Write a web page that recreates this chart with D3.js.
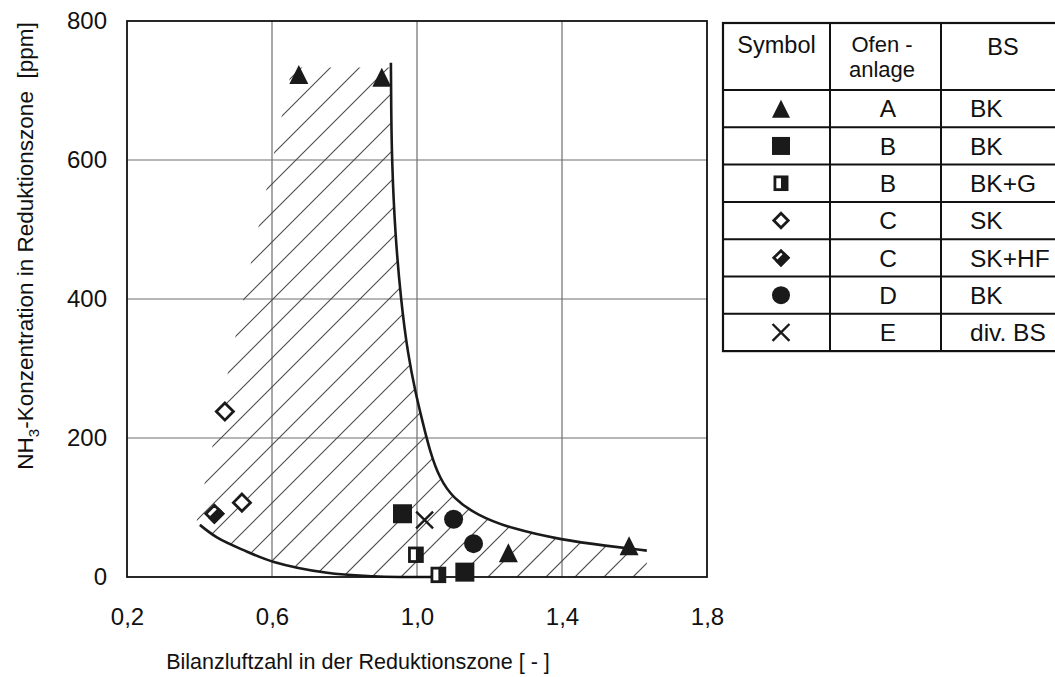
<!DOCTYPE html>
<html>
<head>
<meta charset="utf-8">
<script src="https://cdn.jsdelivr.net/npm/d3@7"></script>
<style>
  html, body { margin: 0; padding: 0; background: #fff; }
  svg { display: block; font-family: "Liberation Sans", Arial, sans-serif; }
</style>
</head>
<body>
<svg id="chart" width="1055" height="677"></svg>
<script>
// ---- data -------------------------------------------------------------
const xTicks = [0.2, 0.6, 1.0, 1.4, 1.8];
const xTickLabels = ["0,2", "0,6", "1,0", "1,4", "1,8"];
const yTicks = [0, 200, 400, 600, 800];
const yTickLabels = ["0", "200", "400", "600", "800"];

// measured points [Bilanzluftzahl, NH3 ppm]
const plantA_BK   = [[0.674, 723], [0.903, 719], [1.252, 35], [1.585, 45]];
const plantB_BK   = [[0.960, 91], [1.132, 7]];
const plantB_BKG  = [[0.997, 32], [1.059, 3]];
const plantC_SK   = [[0.470, 238], [0.517, 107]];
const plantC_SKHF = [[0.441, 91]];
const plantD_BK   = [[1.101, 83], [1.156, 48]];
const plantE_div  = [[1.021, 82]];

// boundary curves of the scatter band
const upperCurve = [[0.928, 740], [0.929, 660], [0.931, 599], [0.939, 498], [0.956, 396],
                    [0.975, 320], [0.996, 265], [1.016, 222], [1.035, 182], [1.062, 142],
                    [1.100, 113], [1.166, 89], [1.257, 70], [1.403, 53], [1.520, 45],
                    [1.634, 38]];
const lowerCurve = [[0.401, 75], [0.448, 57], [0.520, 39], [0.603, 22], [0.752, 6],
                    [0.880, 1], [0.961, 0], [1.040, 0]];
// outline of the hatched band (left edge and top edge)
const bandLeftEdge = [[0.390, 75], [0.655, 733], [0.928, 733]];
const bandRightFoot = [[1.634, 0]];

// legend table
const legendHeader = ["Symbol", ["Ofen -", "anlage"], "BS"];
const legendSymbols = ["triangle", "square", "halfSquare", "diamond", "halfDiamond", "circle", "cross"];
const legendPlant = ["A", "B", "B", "C", "C", "D", "E"];
const legendFuel = ["BK", "BK", "BK+G", "SK", "SK+HF", "BK", "div. BS"];

// ---- layout -----------------------------------------------------------
const svg = d3.select("#chart");
const X0 = 127, X1 = 707, Y0 = 21, Y1 = 577;
const x = d3.scaleLinear().domain([0.2, 1.8]).range([X0, X1]);
const y = d3.scaleLinear().domain([0, 800]).range([Y1, Y0]);
const ink = "#1a1a1a";

// grid
const grid = svg.append("g");
grid.selectAll("line.gx").data(xTicks.slice(1, -1)).join("line")
  .attr("x1", d => x(d)).attr("x2", d => x(d)).attr("y1", Y0).attr("y2", Y1)
  .attr("stroke", "#6e6e6e").attr("stroke-width", 1.2);
grid.selectAll("line.gy").data(yTicks.slice(1, -1)).join("line")
  .attr("y1", d => y(d)).attr("y2", d => y(d)).attr("x1", X0).attr("x2", X1)
  .attr("stroke", "#6e6e6e").attr("stroke-width", 1.2);

// hatched band
const upperGen = d3.line().x(d => x(d[0])).y(d => y(d[1])).curve(d3.curveBasis);
const lowerGen = d3.line().x(d => x(d[0])).y(d => y(d[1])).curve(d3.curveCatmullRom.alpha(0.5));
const straight = d3.line().x(d => x(d[0])).y(d => y(d[1]));
const upperD = upperGen(upperCurve);
const lowerRevD = lowerGen(lowerCurve.slice().reverse());
const footD = straight(bandRightFoot.concat([lowerCurve[lowerCurve.length - 1]]));
const leftD = straight(bandLeftEdge);
const bandD = upperD + footD.replace(/^M/, "L") + lowerRevD.replace(/^M/, "L") +
              leftD.replace(/^M/, "L") + "Z";

svg.append("defs").append("clipPath").attr("id", "band")
  .append("path").attr("d", bandD);

const hatchSpacing = 29;
const hatchOffsets = d3.range(X0 + Y0 - 2 * hatchSpacing + ((1065 - X0 - Y0) % hatchSpacing),
                              X1 + Y1 + hatchSpacing, hatchSpacing);
svg.append("g").attr("clip-path", "url(#band)")
  .selectAll("line").data(hatchOffsets).join("line")
  .attr("x1", c => c - Y1).attr("y1", Y1)
  .attr("x2", c => c - Y0).attr("y2", Y0)
  .attr("stroke", "#4a4a4a").attr("stroke-width", 1.1);

// boundary curves
svg.append("path").attr("d", upperD).attr("fill", "none")
  .attr("stroke", ink).attr("stroke-width", 2.6);
svg.append("path").attr("d", lowerGen(lowerCurve)).attr("fill", "none")
  .attr("stroke", ink).attr("stroke-width", 2.6);

// frame
svg.append("rect").attr("x", X0).attr("y", Y0).attr("width", X1 - X0).attr("height", Y1 - Y0)
  .attr("fill", "none").attr("stroke", "#111").attr("stroke-width", 1.8);

// axes
const xAxis = d3.axisBottom(x).tickValues(xTicks).tickSize(0).tickPadding(31)
  .tickFormat((d, i) => xTickLabels[i]);
const gx = svg.append("g").attr("transform", `translate(0,${Y1})`).call(xAxis);
gx.select(".domain").remove();
gx.selectAll("text").attr("font-size", 24).attr("fill", "#111")
  .attr("font-family", "Liberation Sans, Arial, sans-serif");

const yAxis = d3.axisLeft(y).tickValues(yTicks).tickSize(0).tickPadding(20)
  .tickFormat((d, i) => yTickLabels[i]);
const gy = svg.append("g").attr("transform", `translate(${X0},0)`).call(yAxis);
gy.select(".domain").remove();
gy.selectAll("text").attr("font-size", 24).attr("fill", "#111")
  .attr("font-family", "Liberation Sans, Arial, sans-serif");

// axis titles
svg.append("text").attr("x", 358).attr("y", 669).attr("text-anchor", "middle")
  .attr("font-size", 21.5).attr("fill", "#111")
  .text("Bilanzluftzahl in der Reduktionszone [ - ]");

const yt = svg.append("text").attr("transform", "translate(33,246) rotate(-90)")
  .attr("text-anchor", "middle").attr("font-size", 22.5).attr("fill", "#111");
yt.append("tspan").text("NH");
yt.append("tspan").attr("font-size", 15).attr("dy", 6).text("3");
yt.append("tspan").attr("dy", -6).text("-Konzentration in Reduktionszone\u00a0 [ppm]");

// ---- marker drawing ---------------------------------------------------
function drawMarker(g, type, s) {
  const h = s / 2;
  if (type === "triangle") {
    g.append("path").attr("d", `M0,${-h}L${h},${h}L${-h},${h}Z`).attr("fill", ink);
  } else if (type === "square") {
    g.append("rect").attr("x", -h).attr("y", -h).attr("width", s).attr("height", s).attr("fill", ink);
  } else if (type === "halfSquare") {
    const a = s * 0.38;
    g.append("rect").attr("x", -a).attr("y", -a * 1.05).attr("width", 2 * a).attr("height", 2.1 * a)
      .attr("fill", "#fff").attr("stroke", ink).attr("stroke-width", 2.8);
    g.append("rect").attr("x", 0).attr("y", -a * 1.05).attr("width", a).attr("height", 2.1 * a).attr("fill", ink);
  } else if (type === "diamond" || type === "halfDiamond") {
    const r = s * 0.45;
    g.append("path").attr("d", `M0,${-r}L${r},0L0,${r}L${-r},0Z`)
      .attr("fill", "#fff").attr("stroke", ink).attr("stroke-width", 2.8).attr("stroke-linejoin", "miter");
    if (type === "halfDiamond") {
      g.append("path").attr("d", `M${r / 2},${-r / 2}L${r},0L0,${r}L${-r / 2},${r / 2}Z`)
        .attr("fill", ink).attr("stroke", ink).attr("stroke-width", 2.8).attr("stroke-linejoin", "miter");
    }
  } else if (type === "circle") {
    g.append("circle").attr("r", h).attr("fill", ink);
  } else if (type === "cross") {
    const c = s * 0.47;
    g.append("path").attr("d", `M${-c},${-c}L${c},${c}M${-c},${c}L${c},${-c}`)
      .attr("stroke", ink).attr("stroke-width", 2.4).attr("fill", "none");
  }
}

const series = [
  { data: plantA_BK, type: "triangle", size: 19 },
  { data: plantB_BK, type: "square", size: 19 },
  { data: plantB_BKG, type: "halfSquare", size: 17 },
  { data: plantC_SK, type: "diamond", size: 19 },
  { data: plantC_SKHF, type: "halfDiamond", size: 19 },
  { data: plantD_BK, type: "circle", size: 19 },
  { data: plantE_div, type: "cross", size: 18 }
];
series.forEach(sr => {
  svg.append("g").selectAll("g").data(sr.data).join("g")
    .attr("transform", d => `translate(${x(d[0])},${y(d[1])})`)
    .each(function () { drawMarker(d3.select(this), sr.type, sr.size); });
});

// ---- legend table ------------------------------------------------------
const T = { left: 723, top: 23, right: 1075, headerBottom: 90, rowH: 37.3 };
const colX = [T.left, 830, 941, T.right];
const nRows = legendSymbols.length;
const tBottom = T.headerBottom + nRows * T.rowH;
const tbl = svg.append("g");

tbl.append("rect").attr("x", T.left).attr("y", T.top)
  .attr("width", T.right - T.left).attr("height", tBottom - T.top)
  .attr("fill", "#fff").attr("stroke", "#111").attr("stroke-width", 2.2);
tbl.selectAll("line.col").data(colX.slice(1, 3)).join("line")
  .attr("x1", d => d).attr("x2", d => d).attr("y1", T.top).attr("y2", tBottom)
  .attr("stroke", "#111").attr("stroke-width", 2);
tbl.selectAll("line.row").data(d3.range(nRows)).join("line")
  .attr("x1", T.left).attr("x2", T.right)
  .attr("y1", i => T.headerBottom + i * T.rowH).attr("y2", i => T.headerBottom + i * T.rowH)
  .attr("stroke", "#111").attr("stroke-width", 2);

// header
tbl.append("text").attr("x", 776.5).attr("y", 53).attr("text-anchor", "middle")
  .attr("font-size", 23.5).attr("fill", "#111").text(legendHeader[0]);
legendHeader[1].forEach((t, i) => {
  tbl.append("text").attr("x", 882).attr("y", 52 + i * 25).attr("text-anchor", "middle")
    .attr("font-size", 22).attr("fill", "#111").text(t);
});
tbl.append("text").attr("x", 1003).attr("y", 55).attr("text-anchor", "middle")
  .attr("font-size", 23.5).attr("fill", "#111").text(legendHeader[2]);

// rows
legendSymbols.forEach((sym, i) => {
  const cy = T.headerBottom + (i + 0.5) * T.rowH;
  const g = tbl.append("g").attr("transform", `translate(781,${cy})`);
  drawMarker(g, sym, sym === "halfSquare" || sym === "diamond" || sym === "halfDiamond" ? 16 : 18);
  tbl.append("text").attr("x", 888).attr("y", cy).attr("dy", "0.36em").attr("text-anchor", "middle")
    .attr("font-size", 24.5).attr("fill", "#111").text(legendPlant[i]);
  tbl.append("text").attr("x", 970).attr("y", cy).attr("dy", "0.36em").attr("text-anchor", "start")
    .attr("font-size", 24.5).attr("fill", "#111").text(legendFuel[i]);
});
</script>
</body>
</html>
